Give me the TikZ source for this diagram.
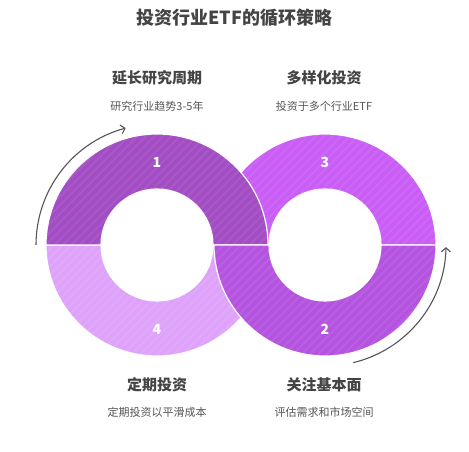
\documentclass[tikz,border=0pt]{standalone}
\usepackage{fontspec}
\newfontfamily\cjk{Noto Sans CJK SC}
\usetikzlibrary{arrows.meta, patterns.meta}
\definecolor{segone}{HTML}{A24DC3}
\definecolor{segtwo}{HTML}{B453E0}
\definecolor{segthree}{HTML}{C95DF6}
\definecolor{segfour}{HTML}{DFA2FA}
\definecolor{txtdark}{HTML}{444444}
\definecolor{txtsub}{HTML}{555555}
\tikzset{
  seg/.style={fill=#1,
    postaction={pattern={Lines[distance=6pt, angle=45, line width=2pt]}, pattern color=#1!93!white},
    postaction={draw=white, line width=1.2pt}},
  num/.style={text=white, font=\cjk\bfseries\fontsize{14}{16}\selectfont},
  head/.style={text=txtdark, font=\cjk\bfseries\fontsize{15}{18}\selectfont},
  sub/.style={text=txtsub, font=\cjk\fontsize{11}{13}\selectfont},
  cycarrow/.style={draw=txtsub, line width=1.1pt, -{Straight Barb[length=4pt, width=9pt]}}
}
\begin{document}
\begin{tikzpicture}[x=1pt, y=1pt]
	\useasboundingbox[fill=white] (0,0) rectangle (469,452);
	% Rings: lower pair first, then the upper pair with white borders
	\coordinate (lc) at (157,207);
	\coordinate (rc) at (325,207);
	\path[seg=segthree] ([xshift=111pt]rc) arc[start angle=0, end angle=180, radius=111] -- ++(55,0) arc[start angle=180, end angle=0, radius=56] -- cycle;
	\path[seg=segfour] ([xshift=-111pt]lc) arc[start angle=180, end angle=360, radius=111] -- ++(-55,0) arc[start angle=360, end angle=180, radius=56] -- cycle;
	\path[seg=segone] ([xshift=111pt]lc) arc[start angle=0, end angle=180, radius=111] -- ++(55,0) arc[start angle=180, end angle=0, radius=56] -- cycle;
	\path[seg=segtwo] ([xshift=-111pt]rc) arc[start angle=180, end angle=360, radius=111] -- ++(-55,0) arc[start angle=360, end angle=180, radius=56] -- cycle;
	% Numbers
	\node[num] (n1) at (157,290) {1};
	\node[num] (n3) at (325,290) {3};
	\node[num] (n2) at (325,123) {2};
	\node[num] (n4) at (157,123) {4};
	% Cycle arrows
	\coordinate (la) at ([xshift=-121pt]lc);
	\coordinate (ra) at ([shift={(-76.5:121)}]rc);
	\draw[cycarrow] (la) arc[start angle=180, end angle=105, radius=121];
	\draw[cycarrow] (ra) arc[start angle=-76.5, end angle=-1, radius=121];
	% Title and labels
	\node[text=txtdark, font=\cjk\bfseries\fontsize{18}{21}\selectfont] (title) at (234.5,434.5) {投资行业ETF的循环策略};
	\node[head] (h1) at (157,374) {延长研究周期};
	\node[sub] (s1) at (157,346) {研究行业趋势3-5年};
	\node[head] (h3) at (324,374) {多样化投资};
	\node[sub] (s3) at (324,346) {投资于多个行业ETF};
	\node[head] (h4) at (157,67) {定期投资};
	\node[sub] (s4) at (157,40) {定期投资以平滑成本};
	\node[head] (h2) at (324,67) {关注基本面};
	\node[sub] (s2) at (324,40) {评估需求和市场空间};
\end{tikzpicture}
\end{document}
